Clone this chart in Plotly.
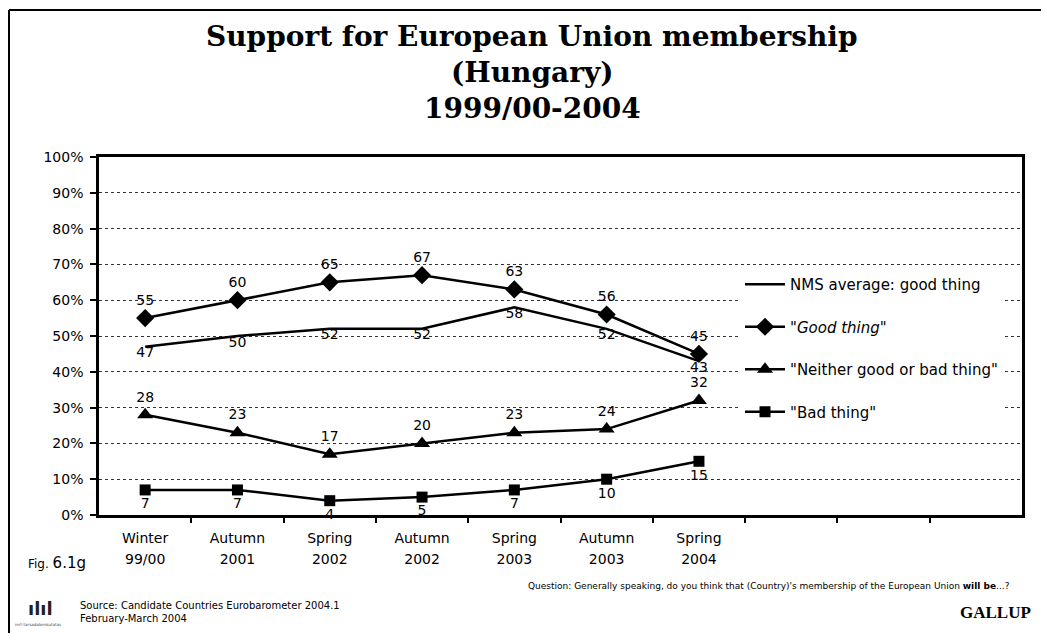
import plotly.graph_objects as go

# Survey waves (x categories); the axis keeps room for 10 slots, legend sits in the empty ones
waves_line1 = ["Winter", "Autumn", "Spring", "Autumn", "Spring", "Autumn", "Spring"]
waves_line2 = ["99/00", "2001", "2002", "2002", "2003", "2003", "2004"]

nms_average = [47, 50, 52, 52, 58, 52, 43]
good_thing = [55, 60, 65, 67, 63, 56, 45]
neither = [28, 23, 17, 20, 23, 24, 32]
bad_thing = [7, 7, 4, 5, 7, 10, 15]

y_ticks = [0, 10, 20, 30, 40, 50, 60, 70, 80, 90, 100]
y_labels = [f"{v}%" for v in y_ticks]

title_lines = ["Support for European Union membership", "(Hungary)", "1999/00-2004"]

W, H = 1045, 633
L, R, T, B = 99, 1022, 157, 515


def px(x):
    return (x - L) / (R - L)


def py(y):
    return (B - y) / (B - T)


xs = list(range(len(waves_line1)))
SANS = "DejaVu Sans, Arial, sans-serif"
SERIF = "DejaVu Serif, serif"

fig = go.Figure()


def series(name, vals, symbol, size, textpos, group):
    mode = "lines+text" if symbol is None else "lines+markers+text"
    tr = go.Scatter(
        x=xs, y=vals, mode=mode, name=name, legendgroup=group,
        text=[str(v) for v in vals], textposition=textpos,
        textfont=dict(family=SANS, size=14, color="black"),
        line=dict(color="black", width=2.5),
        cliponaxis=False,
    )
    if symbol is not None:
        tr.marker = dict(symbol=symbol, size=size, color="black",
                         line=dict(color="black", width=0))
    fig.add_trace(tr)


series("NMS average: good thing", nms_average, None, 0, "bottom center", "a")
series('<i>"Good thing"</i>', good_thing, "diamond", 14, "top center", "b")
series('"Neither good or bad thing"', neither, "triangle-up", 14, "top center", "c")
series('"Bad thing"', bad_thing, "square", 11, "bottom center", "d")

# second line of the category labels lives on an overlaid axis
fig.add_trace(go.Scatter(x=[], y=[], xaxis="x2", showlegend=False, hoverinfo="skip"))

fig.update_layout(
    width=W, height=H,
    margin=dict(l=L, r=W - R, t=T, b=H - B),
    paper_bgcolor="white", plot_bgcolor="white",
    showlegend=True,
    xaxis=dict(
        range=[-0.5, 9.5], tickvals=xs, ticktext=waves_line1,
        tickfont=dict(family=SANS, size=14, color="black"),
        ticks="", ticklabelstandoff=8,
        minor=dict(tickvals=[i + 0.5 for i in range(9)], ticks="outside",
                   ticklen=5, tickcolor="black", tickwidth=1.5, showgrid=False),
        showline=True, linecolor="black", linewidth=2.5, mirror=True,
        showgrid=False, zeroline=False,
    ),
    xaxis2=dict(
        range=[-0.5, 9.5], overlaying="x", anchor="y", side="bottom",
        tickvals=xs, ticktext=waves_line2,
        tickfont=dict(family=SANS, size=14, color="black"),
        ticks="", ticklabelstandoff=34,
        showline=False, showgrid=False, zeroline=False,
    ),
    yaxis=dict(
        range=[0, 100], tickvals=y_ticks, ticktext=y_labels,
        tickfont=dict(family=SANS, size=14, color="black"),
        ticks="outside", ticklen=6, tickcolor="black", tickwidth=1.5,
        ticklabelstandoff=4,
        showline=True, linecolor="black", linewidth=2.5, mirror=True,
        showgrid=True, gridcolor="#333333", griddash="dot", gridwidth=1,
        zeroline=False,
    ),
    legend=dict(
        x=px(740), y=py(268), xanchor="left", yanchor="top",
        bgcolor="white", borderwidth=0,
        font=dict(family=SANS, size=15, color="black"),
        tracegroupgap=20, itemwidth=40,
    ),
)

# outer page frame (left and top edges)
fig.add_shape(type="line", xref="paper", yref="paper",
              x0=px(9), x1=px(9), y0=py(10), y1=py(640),
              line=dict(color="black", width=2))
fig.add_shape(type="line", xref="paper", yref="paper",
              x0=px(9), x1=px(1041), y0=py(10), y1=py(10),
              line=dict(color="black", width=2))


def note(text, x, y, size, anchor="left", family=SANS, color="black"):
    fig.add_annotation(text=text, xref="paper", yref="paper", x=px(x), y=py(y),
                       xanchor=anchor, yanchor="middle", showarrow=False,
                       font=dict(family=family, size=size, color=color))


# three-line heading
for line, yc in zip(title_lines, [37, 73, 109]):
    note(f"<b>{line}</b>", 532, yc, 28, anchor="center", family=SERIF)

note("Fig. <span style='font-size:15px'>6.1g</span>", 26, 563, 12)
note("Question: Generally speaking, do you think that (Country)'s membership of the "
     "European Union <b>will be</b>...?", 1012, 586, 9, anchor="right")
note("Source: Candidate Countries Eurobarometer 2004.1", 78, 605, 10)
note("February-March 2004", 78, 618, 10)
note("<b>GALLUP</b>", 1033, 612, 17, anchor="right", family="Liberation Serif, serif")
note("<b>ılıl</b>", 40, 608, 18, anchor="center", color="#222222")
note("mrt-tarsadalomkutatas", 38, 624, 4, anchor="center", color="#444444")

fig.write_html("out.html")
